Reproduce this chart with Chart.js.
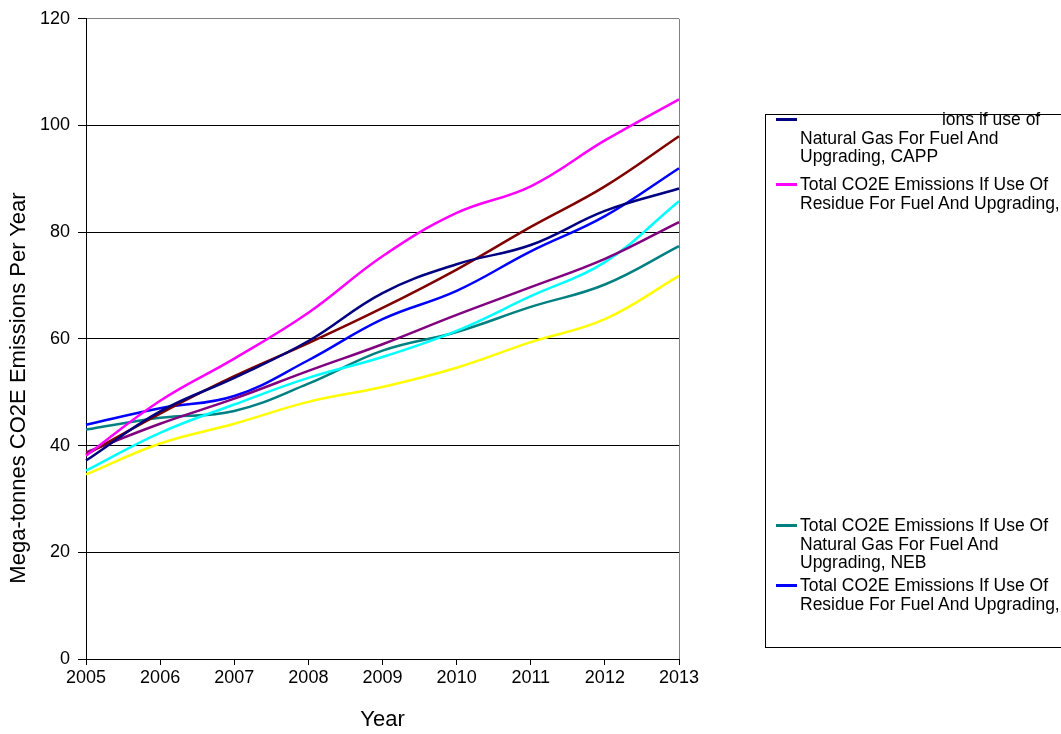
<!DOCTYPE html>
<html>
<head>
<meta charset="utf-8">
<script src="https://cdn.jsdelivr.net/npm/chart.js@4"></script>
<style>
  body { margin: 0; background: #fff; font-family: "Liberation Sans", Arial, sans-serif; }
  #wrap { position: relative; width: 1061px; height: 734px; overflow: hidden; }
  #chart { position: absolute; left: 0; top: 0; }
  #ytitle { position: absolute; left: 18px; top: 388px; width: 600px; text-align: center; font-size: 22px; line-height: 26px;
            transform: translate(-50%, -50%) rotate(-90deg); white-space: nowrap; color: #000; }
  #legend { position: absolute; left: 765px; top: 114px; width: 340px; height: 532px; border: 1px solid #000; background: #fff; }
  .item { position: absolute; left: 34px; font-size: 17.5px; line-height: 18.7px; color: #000; white-space: nowrap; }
  .item .mark { position: absolute; left: -24px; top: 8px; width: 21px; height: 2.5px; }
  .hid { visibility: hidden; }
</style>
</head>
<body>
<div id="wrap">
  <canvas id="chart" width="1061" height="734"></canvas>
  <div id="ytitle">Mega-tonnes CO2E Emissions Per Year</div>
  <div id="legend"></div>
</div>
<script>
let years = ['2005', '2006', '2007', '2008', '2009', '2010', '2011', '2012', '2013'];

// CAPP natural gas
let gasCapp = [37.2, 46.4, 52.7, 59.6, 68.6, 74.0, 77.6, 84.0, 88.2];
// CAPP residue
let residueCapp = [38.1, 48.4, 56.3, 64.9, 75.5, 83.6, 88.6, 97.2, 104.9];
let seriesMaroon = [38.3, 46.0, 53.0, 59.2, 65.8, 73.0, 81.0, 88.6, 98.0];
let seriesPurple = [38.7, 44.1, 48.8, 54.0, 59.0, 64.5, 69.7, 75.0, 81.9];
let seriesCyan = [35.3, 42.4, 47.7, 52.7, 56.6, 61.5, 68.0, 74.4, 85.8];
let seriesYellow = [34.6, 40.4, 44.1, 48.2, 51.0, 54.6, 59.4, 63.7, 71.8];
// NEB natural gas
let gasNeb = [43.0, 45.2, 46.5, 51.6, 57.8, 61.3, 66.0, 70.2, 77.4];
// NEB residue
let residueNeb = [43.9, 47.0, 49.3, 56.0, 63.7, 69.0, 76.4, 83.0, 92.0];

let yTicks = [0, 20, 40, 60, 80, 100, 120];

function serie(label, data, color) {
  return {
    label: label,
    data: data,
    borderColor: color,
    backgroundColor: color,
    borderWidth: 2.5,
    pointRadius: 0,
    tension: 0.4,
    fill: false
  };
}

let kanvas = document.getElementById('chart');

let grafik = new Chart(kanvas, {
  type: 'line',
  data: {
    labels: years,
    datasets: [
      serie('Total CO2E Emissions if use of Natural Gas For Fuel And Upgrading, CAPP', gasCapp, '#000080'),
      serie('Total CO2E Emissions If Use Of Residue For Fuel And Upgrading, CAPP', residueCapp, '#ff00ff'),
      serie('', seriesMaroon, '#800000'),
      serie('', seriesPurple, '#800080'),
      serie('', seriesCyan, '#00ffff'),
      serie('', seriesYellow, '#ffff00'),
      serie('Total CO2E Emissions If Use Of Natural Gas For Fuel And Upgrading, NEB', gasNeb, '#008080'),
      serie('Total CO2E Emissions If Use Of Residue For Fuel And Upgrading, NEB', residueNeb, '#0000ff')
    ]
  },
  options: {
    responsive: false,
    animation: false,
    layout: { padding: { left: 0, top: 16, right: 382, bottom: 0 } },
    plugins: { legend: { display: false }, tooltip: { enabled: false } },
    scales: {
      x: {
        offset: false,
        border: { color: '#000', width: 1 },
        grid: {
          drawOnChartArea: true,
          color: c => c.index === years.length - 1 ? '#808080' : 'rgba(0,0,0,0)',
          tickColor: '#000',
          tickLength: 6
        },
        ticks: { color: '#000', font: { family: 'Liberation Sans', size: 18 }, padding: 2, maxRotation: 0, autoSkip: false },
        title: { display: true, text: 'Year', color: '#000', font: { family: 'Liberation Sans', size: 22 }, padding: { top: 0, bottom: 1 } },
        afterFit: s => { s.height = 75; }
      },
      y: {
        min: 0,
        max: 120,
        afterBuildTicks: s => { s.ticks = yTicks.map(v => ({ value: v })); },
        border: { color: '#000', width: 1 },
        grid: {
          color: c => c.tick.value === 120 ? '#808080' : '#000',
          tickColor: '#000',
          tickLength: 8
        },
        ticks: { color: '#000', font: { family: 'Liberation Sans', size: 18 }, padding: 8 },
        afterFit: s => { s.width = 86; }
      }
    }
  }
});

// legend entries that show in the picture
let legendItems = [
  { top: 109, color: '#000080', hide: 'Total CO2E Emiss', lines: ['ions if use of', 'Natural Gas For Fuel And', 'Upgrading, CAPP'] },
  { top: 174, color: '#ff00ff', tail: ' CAPP', lines: ['Total CO2E Emissions If Use Of', 'Residue For Fuel And Upgrading,'] },
  { top: 515, color: '#008080', lines: ['Total CO2E Emissions If Use Of', 'Natural Gas For Fuel And', 'Upgrading, NEB'] },
  { top: 575, color: '#0000ff', tail: ' NEB', lines: ['Total CO2E Emissions If Use Of', 'Residue For Fuel And Upgrading,'] }
];

let legendBox = document.getElementById('legend');
legendItems.forEach(it => {
  let d = document.createElement('div');
  d.className = 'item';
  d.style.top = (it.top - 114) + 'px';
  let html = '<span class="mark" style="background:' + it.color + '"></span>';
  html += it.lines.map((l, i) => (i === 0 && it.hide ? '<span class="hid">' + it.hide + '</span>' : '') + l).join('<br>');
  if (it.tail) html += '<span class="hid">' + it.tail + '</span>';
  d.innerHTML = html;
  legendBox.appendChild(d);
});
</script>
</body>
</html>
